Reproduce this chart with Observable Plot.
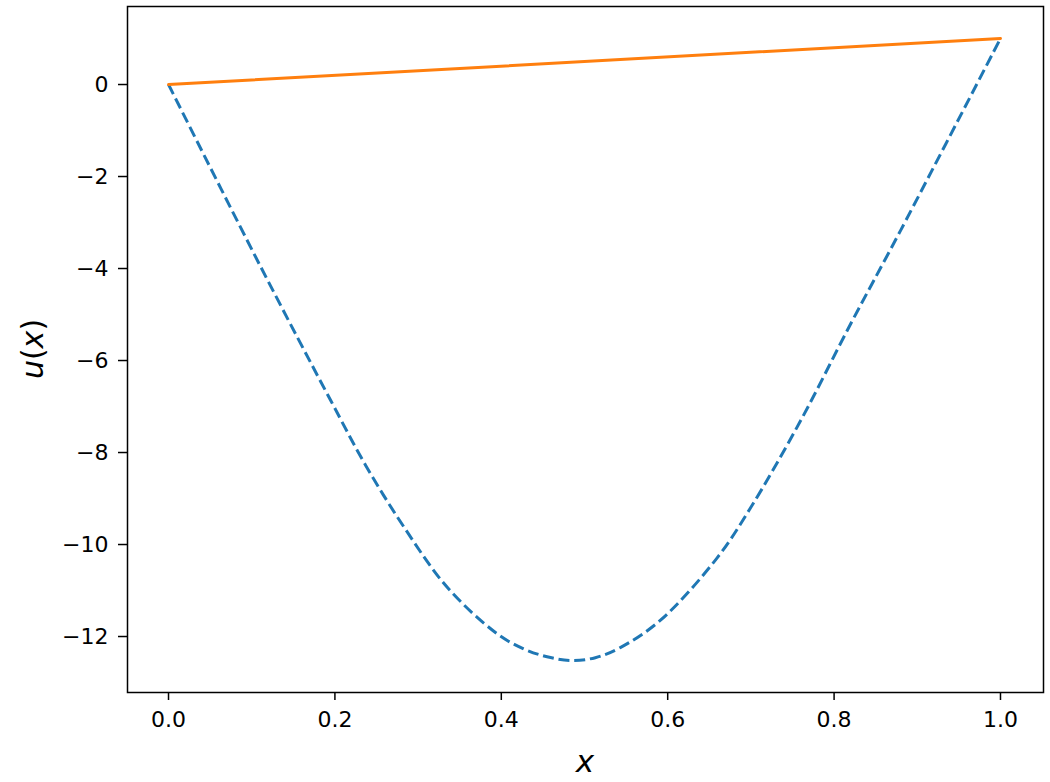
<!DOCTYPE html>
<html>
<head>
<meta charset="utf-8">
<script src="https://cdn.jsdelivr.net/npm/d3@7"></script>
<script src="https://cdn.jsdelivr.net/npm/@observablehq/plot@0.6"></script>
<style>
  html, body { margin: 0; padding: 0; background: #fff; }
  #chart svg { display: block; font-family: "DejaVu Sans", sans-serif; }
</style>
</head>
<body>
<div id="chart"></div>
<script>
// Dashed blue curve: points
const curveX = [0, 0.111, 0.195, 0.237, 0.283, 0.335, 0.395, 0.427, 0.455, 0.484, 0.513, 0.543, 0.591, 0.659, 0.700, 0.760, 0.820, 0.880, 1.0];
const curveY = [0, -3.97, -6.87, -8.28, -9.62, -10.93, -11.94, -12.27, -12.44, -12.52, -12.46, -12.24, -11.65, -10.30, -9.19, -7.30, -5.20, -3.17, 1.0];
// Solid orange line
const lineX = [0, 1];
const lineY = [0, 1];
// Ticks
const xTicks = [0, 0.2, 0.4, 0.6, 0.8, 1.0];
const yTicks = [0, -2, -4, -6, -8, -10, -12];

const curve = curveX.map((x, i) => ({x, y: curveY[i]}));
const line = lineX.map((x, i) => ({x, y: lineY[i]}));

const W = 1050, H = 782;
const mL = 127, mR = 7, mT = 6, mB = 90;

const chart = Plot.plot({
  width: W,
  height: H,
  marginLeft: mL,
  marginRight: mR,
  marginTop: mT,
  marginBottom: mB,
  style: {fontFamily: "DejaVu Sans, sans-serif", color: "#000", background: "#fff"},
  x: {domain: [-0.0493, 1.0517]},
  y: {domain: [-13.217, 1.696]},
  marks: [
    Plot.line(curve, {x: "x", y: "y", stroke: "#1f77b4", strokeWidth: 3, strokeDasharray: "11,4.8", curve: "catmull-rom", strokeLinecap: "butt"}),
    Plot.line(line, {x: "x", y: "y", stroke: "#ff7f0e", strokeWidth: 3}),
    Plot.frame({stroke: "#000", strokeWidth: 1.5}),
    Plot.axisX({ticks: xTicks, tickFormat: d3.format(".1f"), tickSize: 8, tickPadding: 11, fontSize: 22, label: null, strokeWidth: 1.5, color: "#000"}),
    Plot.axisY({ticks: yTicks, tickFormat: d => d < 0 ? "\u2212" + (-d) : String(d), tickSize: 9, tickPadding: 10, fontSize: 22, label: null, strokeWidth: 1.5, color: "#000"})
  ]
});

document.getElementById("chart").appendChild(chart);

// Axis labels with math-italic letters
const svg = d3.select(chart);
const cx = mL + (W - mL - mR) / 2;
const cy = mT + (H - mT - mB) / 2;

const xl = svg.append("text")
  .attr("x", cx).attr("y", 772)
  .attr("text-anchor", "middle")
  .attr("font-size", 31)
  .attr("fill", "#000")
  .attr("font-family", "DejaVu Sans, sans-serif");
xl.append("tspan").attr("font-style", "italic").text("x");

const yl = svg.append("text")
  .attr("transform", `translate(43,${cy}) rotate(-90)`)
  .attr("text-anchor", "middle")
  .attr("font-size", 30)
  .attr("fill", "#000")
  .attr("font-family", "DejaVu Sans, sans-serif");
yl.append("tspan").attr("font-style", "italic").text("u");
yl.append("tspan").text("(");
yl.append("tspan").attr("font-style", "italic").text("x");
yl.append("tspan").text(")");
</script>
</body>
</html>
